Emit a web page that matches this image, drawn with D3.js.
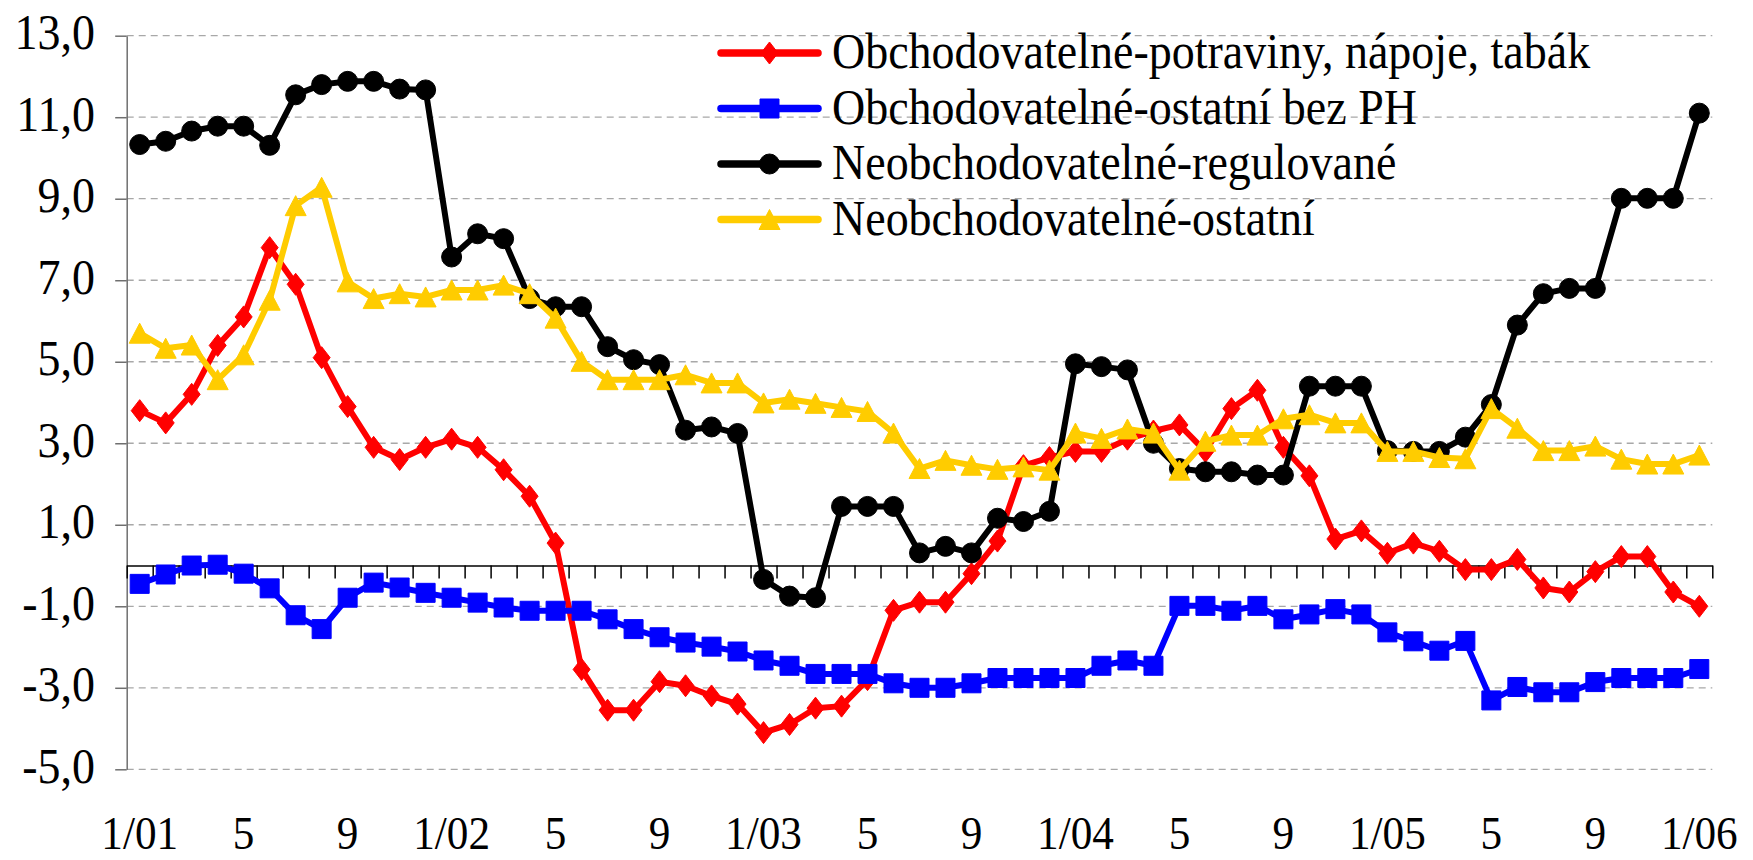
<!DOCTYPE html>
<html>
<head>
<meta charset="utf-8">
<script src="https://cdnjs.cloudflare.com/ajax/libs/d3/7.8.5/d3.min.js"></script>
<style>
  body { margin: 0; background: #ffffff; }
  text { font-family: "Liberation Serif", "Times New Roman", serif; fill: #000; }
</style>
</head>
<body>
<div id="chart"></div>
<script>
var svgWidth = 1753;
var svgHeight = 860;

// labels under the axis, one for every 4th month (1/01 ... 1/06)
var tickLabels = ["1/01", "5", "9", "1/02", "5", "9", "1/03", "5", "9", "1/04", "5", "9", "1/05", "5", "9", "1/06"];
var yTicks = [-5, -3, -1, 1, 3, 5, 7, 9, 11, 13];

var seriesNames = [
  "Obchodovatelné-potraviny, nápoje, tabák",
  "Obchodovatelné-ostatní bez PH",
  "Neobchodovatelné-regulované",
  "Neobchodovatelné-ostatní"
];

// monthly values 1/2001 - 1/2006 (61 months)
var food = [3.8, 3.5, 4.2, 5.4, 6.1, 7.8, 6.9, 5.1, 3.9, 2.9, 2.6, 2.9, 3.1, 2.9, 2.35, 1.7, 0.55,
  -2.55, -3.55, -3.55, -2.85, -2.95, -3.2, -3.4, -4.1, -3.9, -3.5, -3.45, -2.8, -1.1, -0.9, -0.9,
  -0.2, 0.6, 2.45, 2.65, 2.8, 2.8, 3.1, 3.3, 3.45, 2.8, 3.85, 4.3, 2.9, 2.2, 0.65, 0.85, 0.3, 0.55,
  0.35, -0.1, -0.1, 0.15, -0.55, -0.65, -0.15, 0.22, 0.22, -0.65, -1.0];

var otherTradable = [-0.45, -0.22, 0.0, 0.02, -0.2, -0.56, -1.22, -1.56, -0.79, -0.42, -0.54, -0.67,
  -0.79, -0.91, -1.03, -1.11, -1.11, -1.11, -1.32, -1.56, -1.76, -1.89, -1.99, -2.11, -2.33, -2.46,
  -2.66, -2.66, -2.66, -2.89, -3.0, -3.0, -2.89, -2.76, -2.76, -2.76, -2.76, -2.46, -2.33, -2.46,
  -0.99, -0.99, -1.11, -0.99, -1.32, -1.2, -1.07, -1.2, -1.64, -1.86, -2.09, -1.85, -3.31, -2.98,
  -3.11, -3.11, -2.86, -2.76, -2.76, -2.76, -2.54];

var regulated = [10.33, 10.41, 10.66, 10.78, 10.78, 10.31, 11.55, 11.8, 11.88, 11.88, 11.69, 11.67,
  7.57, 8.14, 8.02, 6.55, 6.35, 6.35, 5.37, 5.05, 4.93, 3.32, 3.4, 3.24, -0.34, -0.75, -0.79, 1.45,
  1.45, 1.45, 0.31, 0.47, 0.31, 1.16, 1.08, 1.33, 4.95, 4.88, 4.8, 3.0, 2.38, 2.3, 2.3, 2.22, 2.22,
  4.4, 4.4, 4.4, 2.82, 2.8, 2.8, 3.15, 3.95, 5.9, 6.67, 6.8, 6.8, 9.01, 9.01, 9.01, 11.1];

var otherNonTradable = [5.7, 5.33, 5.41, 4.56, 5.17, 6.51, 8.83, 9.28, 6.96, 6.55, 6.67, 6.59, 6.76,
  6.76, 6.88, 6.67, 6.07, 5.01, 4.56, 4.56, 4.56, 4.68, 4.48, 4.48, 3.99, 4.08, 3.98, 3.88, 3.78,
  3.25, 2.38, 2.58, 2.46, 2.36, 2.42, 2.34, 3.25, 3.12, 3.35, 3.25, 2.34, 3.05, 3.2, 3.2, 3.6, 3.7,
  3.5, 3.5, 2.8, 2.8, 2.65, 2.62, 3.85, 3.37, 2.82, 2.82, 2.93, 2.61, 2.49, 2.49, 2.71];

var colors = ["#ff0000", "#0000ff", "#000000", "#ffcc00"];
var markers = ["diamond", "square", "circle", "triangle"];
var allSeries = [food, otherTradable, regulated, otherNonTradable];

// plot box
var plotLeft = 126.7;
var plotRight = 1712.3;
var plotTop = 35.7;
var plotBottom = 769.3;
var squeeze = 0.92; // the original text is a bit condensed

var svg = d3.select("#chart")
  .append("svg")
  .attr("width", svgWidth)
  .attr("height", svgHeight);

svg.append("rect").attr("width", svgWidth).attr("height", svgHeight).attr("fill", "#fff");

var xScale = d3.scaleLinear()
  .domain([-0.5, food.length - 0.5])
  .range([plotLeft, plotRight]);

var yScale = d3.scaleLinear()
  .domain([-5, 13])
  .range([plotBottom, plotTop]);

// condensed text helper
function addText(parent, x, y, str, size, anchor) {
  return parent.append("g")
    .attr("transform", `translate(${x},${y}) scale(${squeeze},1)`)
    .append("text")
    .attr("text-anchor", anchor)
    .attr("font-size", size)
    .text(str);
}

// marker shapes
function markerPath(type) {
  if (type === "diamond") return "M0,-11L8.5,0L0,11L-8.5,0Z";
  if (type === "square") return "M-9.5,-9.5H9.5V9.5H-9.5Z";
  if (type === "triangle") return "M0,-10L10.5,10L-10.5,10Z";
  return d3.symbol().type(d3.symbolCircle).size(Math.PI * 100)();
}

// dashed gridlines
svg.append("g").selectAll("line")
  .data(yTicks)
  .enter()
  .append("line")
  .attr("x1", plotLeft)
  .attr("x2", plotRight)
  .attr("y1", d => yScale(d))
  .attr("y2", d => yScale(d))
  .attr("stroke", "#a8a8a8")
  .attr("stroke-width", 1.3)
  .attr("stroke-dasharray", "7,5");

// y axis
var leftAxis = d3.axisLeft(yScale)
  .tickValues(yTicks)
  .tickSize(11.5)
  .tickSizeOuter(0)
  .tickFormat("");

var yAxis = svg.append("g")
  .attr("transform", `translate(${plotLeft},0)`)
  .call(leftAxis);
yAxis.selectAll("path, line").attr("stroke", "#6f6f6f").attr("stroke-width", 1.5);

var yLabels = svg.append("g");
yTicks.forEach(function(v) {
  addText(yLabels, 95, yScale(v) + 13.5, v.toFixed(1).replace(".", ","), 50, "end");
});

// category axis on the zero line, ticks between months
var bottomAxis = d3.axisBottom(xScale)
  .tickValues(d3.range(food.length + 1).map(i => i - 0.5))
  .tickSize(13)
  .tickSizeOuter(0)
  .tickFormat("");

var xAxis = svg.append("g")
  .attr("transform", `translate(0,${yScale(0)})`)
  .call(bottomAxis);
xAxis.selectAll("path, line").attr("stroke", "#000").attr("stroke-width", 1.5);

var xLabels = svg.append("g");
tickLabels.forEach(function(lab, i) {
  addText(xLabels, xScale(i * 4), 849, lab, 47, "middle");
});

// series lines + markers
var line = d3.line()
  .x((d, i) => xScale(i))
  .y(d => yScale(d));

allSeries.forEach(function(values, s) {
  var g = svg.append("g");
  g.append("path")
    .datum(values)
    .attr("d", line)
    .attr("fill", "none")
    .attr("stroke", colors[s])
    .attr("stroke-width", 6)
    .attr("stroke-linejoin", "round");

  g.selectAll("path.marker")
    .data(values)
    .enter()
    .append("path")
    .classed("marker", true)
    .attr("d", markerPath(markers[s]))
    .attr("transform", (d, i) => `translate(${xScale(i)},${yScale(d)})`)
    .attr("fill", colors[s])
    .attr("stroke", colors[s])
    .attr("stroke-width", 1);
});

// legend
var legend = svg.append("g");
seriesNames.forEach(function(name, s) {
  var ly = 53 + s * 55.5;
  legend.append("line")
    .attr("x1", 721)
    .attr("x2", 818)
    .attr("y1", ly)
    .attr("y2", ly)
    .attr("stroke", colors[s])
    .attr("stroke-width", 7.5)
    .attr("stroke-linecap", "round");
  legend.append("path")
    .attr("d", markerPath(markers[s]))
    .attr("transform", `translate(769.5,${ly})`)
    .attr("fill", colors[s])
    .attr("stroke", colors[s])
    .attr("stroke-width", 1);
  addText(legend, 832, ly + 15, name, 50, "start");
});
</script>
</body>
</html>
